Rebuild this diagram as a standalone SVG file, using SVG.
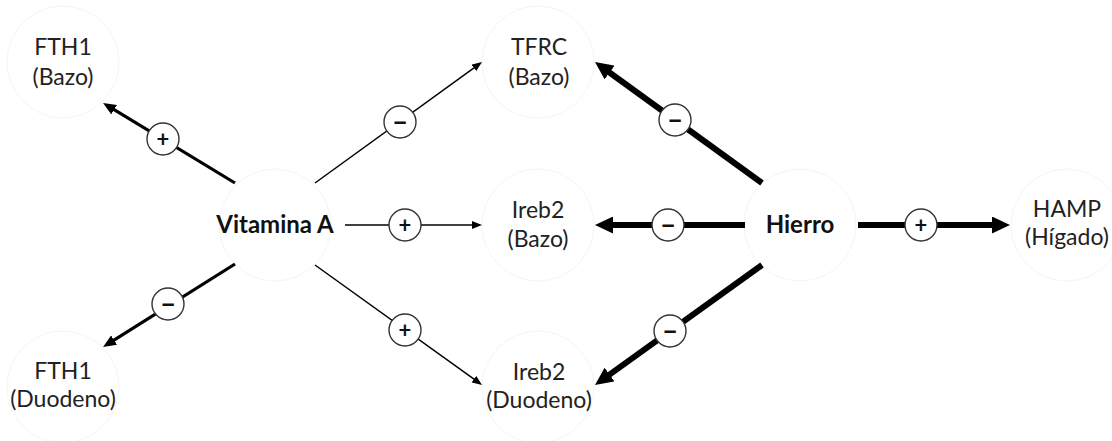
<svg xmlns="http://www.w3.org/2000/svg" width="1112" height="441" viewBox="0 0 1112 441">
  <style>
    .halo { fill: #ffffff; stroke: #f5f5f5; stroke-width: 1; }
    .lbl { font-family: Lato, "Liberation Sans", sans-serif; font-size: 23px; fill: #222; text-anchor: middle; }
    .hub { font-family: Lato, "Liberation Sans", sans-serif; font-size: 24px; font-weight: bold; fill: #111; text-anchor: middle; }
    .edge { stroke: #000; fill: none; stroke-linecap: butt; }
    .thin { stroke-width: 1.5; marker-end: url(#headThin); }
    .mid { stroke-width: 3.2; marker-end: url(#headMid); }
    .thick { stroke-width: 6; marker-end: url(#headThick); }
    .sign circle { fill: #fff; stroke: #333; stroke-width: 1.4; }
    .sign text { font-family: Lato, "Liberation Sans", sans-serif; font-weight: bold; fill: #111; text-anchor: middle; }
    .sign .plus { font-size: 22px; }
    .sign .minus { font-size: 28px; }
  </style>
  <defs>
    <marker id="headThin" markerUnits="userSpaceOnUse" orient="auto" markerWidth="10" markerHeight="8" refX="1" refY="4" viewBox="0 0 10 8">
      <path d="M0,0 L10,4 L0,8 z" fill="#000"/>
    </marker>
    <marker id="headMid" markerUnits="userSpaceOnUse" orient="auto" markerWidth="13" markerHeight="11" refX="1" refY="5.5" viewBox="0 0 13 11">
      <path d="M0,0 L13,5.5 L0,11 z" fill="#000"/>
    </marker>
    <marker id="headThick" markerUnits="userSpaceOnUse" orient="auto" markerWidth="18" markerHeight="17" refX="1" refY="8.5" viewBox="0 0 18 17">
      <path d="M0,0 L18,8.5 L0,17 z" fill="#000"/>
    </marker>
  </defs>

  <rect width="1112" height="441" fill="#ffffff"/>

  <!-- node halos and labels -->
  <g id="fth1-bazo">
    <circle class="halo" cx="63" cy="62" r="56"/>
    <text class="lbl" x="63" y="55">FTH1</text>
    <text class="lbl" x="63" y="85">(Bazo)</text>
  </g>
  <g id="tfrc-bazo">
    <circle class="halo" cx="538" cy="62" r="56"/>
    <text class="lbl" x="539" y="55">TFRC</text>
    <text class="lbl" x="539" y="85">(Bazo)</text>
  </g>
  <g id="vitamina-a">
    <circle class="halo" cx="275" cy="225" r="56"/>
    <text class="hub" x="275" y="233">Vitamina A</text>
  </g>
  <g id="ireb2-bazo">
    <circle class="halo" cx="538" cy="225" r="56"/>
    <text class="lbl" x="538" y="218">Ireb2</text>
    <text class="lbl" x="538" y="247">(Bazo)</text>
  </g>
  <g id="hierro">
    <circle class="halo" cx="800" cy="225" r="56"/>
    <text class="hub" x="800" y="233">Hierro</text>
  </g>
  <g id="hamp-higado">
    <circle class="halo" cx="1067" cy="225" r="56"/>
    <text class="lbl" x="1067" y="217">HAMP</text>
    <text class="lbl" x="1067" y="245">(Hígado)</text>
  </g>
  <g id="fth1-duodeno">
    <circle class="halo" cx="63" cy="387" r="56"/>
    <text class="lbl" x="63" y="379">FTH1</text>
    <text class="lbl" x="63" y="407">(Duodeno)</text>
  </g>
  <g id="ireb2-duodeno">
    <circle class="halo" cx="538" cy="387" r="56"/>
    <text class="lbl" x="539" y="380">Ireb2</text>
    <text class="lbl" x="539" y="408">(Duodeno)</text>
  </g>

  <!-- regulatory connectors with effect signs -->
  <g id="connectors">
    <line class="edge mid" x1="235" y1="183" x2="113.3" y2="109.2"/>
    <line class="edge mid" x1="235" y1="264" x2="113.2" y2="340.6"/>
    <line class="edge thin" x1="315" y1="183" x2="474.7" y2="67.3"/>
    <line class="edge thin" x1="345" y1="225" x2="473" y2="225"/>
    <line class="edge thin" x1="315" y1="265" x2="474.7" y2="379.7"/>
    <line class="edge thick" x1="762" y1="183" x2="608.8" y2="72"/>
    <line class="edge thick" x1="745" y1="225" x2="612" y2="225"/>
    <line class="edge thick" x1="762" y1="265" x2="608.8" y2="375.1"/>
    <line class="edge thick" x1="858" y1="225" x2="993" y2="225"/>

    <g class="sign"><circle cx="163" cy="139" r="16"/><text class="plus" x="163" y="147">+</text></g>
    <g class="sign"><circle cx="168" cy="304" r="16"/><text class="minus" x="168" y="313">–</text></g>
    <g class="sign"><circle cx="400" cy="122" r="16"/><text class="minus" x="400" y="131">–</text></g>
    <g class="sign"><circle cx="405" cy="225" r="16"/><text class="plus" x="405" y="233">+</text></g>
    <g class="sign"><circle cx="405" cy="330" r="16"/><text class="plus" x="405" y="338">+</text></g>
    <g class="sign"><circle cx="675" cy="120" r="16"/><text class="minus" x="675" y="129">–</text></g>
    <g class="sign"><circle cx="668" cy="225" r="16"/><text class="minus" x="668" y="234">–</text></g>
    <g class="sign"><circle cx="670" cy="331" r="16"/><text class="minus" x="670" y="340">–</text></g>
    <g class="sign"><circle cx="921" cy="225" r="16"/><text class="plus" x="921" y="233">+</text></g>
  </g>
</svg>
